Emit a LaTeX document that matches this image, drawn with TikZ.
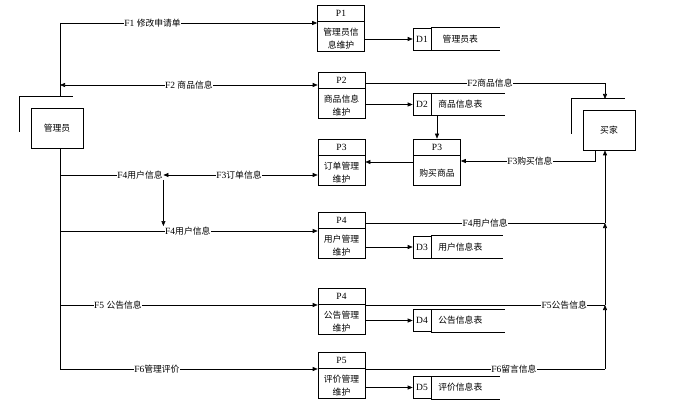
\documentclass[tikz,border=0pt]{standalone}
\usepackage{fontspec}
\setmainfont{Liberation Serif}
\newfontfamily\cjk{Noto Sans CJK SC}
\newcommand{\zh}{\cjk\fontsize{8.8}{12.5}\selectfont}
\usetikzlibrary{arrows.meta,positioning,calc}

\tikzset{
  proc/.style={draw, minimum width=47pt, minimum height=46pt, inner sep=0pt},
  store/.style={draw, minimum width=18pt, minimum height=22pt, inner sep=0pt},
  ent/.style={draw, minimum width=52pt, minimum height=40pt, font=\zh},
  lbl/.style={fill=white, inner sep=0.5pt},
  arr/.style={-{Triangle[length=5pt,width=4pt]}},
  arr2/.style={{Triangle[length=5pt,width=4pt]}-{Triangle[length=5pt,width=4pt]}},
}

\begin{document}
\begin{tikzpicture}[x=1pt,y=-1pt,line width=0.6pt,font=\fontsize{9.5}{12.5}\selectfont]
    \useasboundingbox (0,0) rectangle (683,409);

    % processes
    \foreach \n/\x/\y/\id/\txt in {p1/341/28/P1/{管理员信\\息维护}, p2/341.5/95/P2/{商品信息\\维护},
        p3a/341.5/162/P3/{订单管理\\维护}, p3b/437/162/P3/{购买商品}, p4/341.5/235/P4/{用户管理\\维护},
        p4b/341.5/311/P4/{公告管理\\维护}, p5/341.5/375/P5/{评价管理\\维护}}{
        \node[proc] (\n) at (\x,\y) {};
        \draw ([yshift=-17pt]\n.north west) -- ([yshift=-17pt]\n.north east);
        \node at ([yshift=-8.5pt]\n.north) {\id};
        \node[align=center, font=\zh, inner sep=0pt] at ([yshift=-34pt]\n.north) {\txt};
    }

    % data stores
    \foreach \n/\y/\id/\txt/\len in {d1/39/D1/管理员表/69, d2/104.5/D2/商品信息表/74,
        d3/247/D3/用户信息表/72, d4/320.5/D4/公告信息表/74, d5/387.5/D5/评价信息表/69}{
        \node[store] (\n) at (422,\y) {\id};
        \draw (\n.north east) -- ++(\len,0);
        \draw (\n.south east) -- ++(\len,0);
        \node[font=\zh] at ([xshift=29pt]\n.east) {\txt};
    }

    % external entities
    \node[ent] (adm) at (57,128) {管理员};
    \node[ent] (buy) at (609,130) {买家};
    \foreach \e in {adm,buy}
        \draw ([shift={(-11,24)}]\e.north west) -- ([shift={(-11,-11)}]\e.north west)
            -- ([shift={(42,-11)}]\e.north west);

    % left spine
    \coordinate (s1) at (60,23);
    \coordinate (s2) at (60,85);
    \coordinate (s3) at (60,97);
    \coordinate (s4) at (60,148);
    \coordinate (s5) at (60,175);
    \coordinate (s6) at (60,231);
    \coordinate (s7) at (60,305);
    \coordinate (s8) at (60,369);
    \draw (s1) -- (s3);
    \draw (s4) -- (s8);

    \draw[arr] (s1) -- node[lbl,pos=.36] {F1 {\zh 修改申请单}} (s1 -| p1.west);
    \draw[arr2] (s2) -- node[lbl,pos=.5] {F2 {\zh 商品信息}} (s2 -| p2.west);
    \node[lbl] (f4a) at (140,175) {F4{\zh 用户信息}};
    \draw (s5) -- (f4a.west);
    \draw[arr2] (f4a.east) -- node[lbl,pos=.49] {F3{\zh 订单信息}} (f4a.east -| p3a.west);
    \draw[arr] (s6) -- node[lbl,pos=.496] (f4b) {F4{\zh 用户信息}} (s6 -| p4.west);
    \draw[arr] (f4a.south east) -- (f4a.south east |- f4b.north);
    \draw[arr] (s7) -- node[lbl,pos=.225] {F5 {\zh 公告信息}} (s7 -| p4b.west);
    \draw[arr] (s8) -- node[lbl,pos=.376] {F6{\zh 管理评价}} (s8 -| p5.west);

    % process to store
    \draw[arr] (p1.east |- d1.west) -- (d1.west);
    \draw[arr] (p2.east |- d2.west) -- (d2.west);
    \draw[arr] (p4.east |- d3.west) -- (d3.west);
    \draw[arr] (p4b.east |- d4.west) -- (d4.west);
    \draw[arr] (p5.east |- d5.west) -- (d5.west);
    \draw[arr] (p3b.north |- d2.south) -- (p3b.north);
    \draw[arr] (p3b.west) -- (p3b.west -| p3a.east);

    % right side
    \coordinate (r2) at (605,83);
    \coordinate (r2b) at (605,99);
    \coordinate (r3) at (595,161);
    \coordinate (r6) at (605,223);
    \coordinate (r7) at (605,305);
    \coordinate (r8) at (605,369);
    \draw[arr] (r2 -| p2.east) -- node[lbl,pos=.52] {F2{\zh 商品信息}} (r2) -- (r2b);
    \draw[arr] (r3 |- buy.south) -- (r3) -- node[lbl,pos=.485] {F3{\zh 购买信息}} (r3 -| p3b.east);
    \draw[arr] (r8) -- (r7);
    \draw[arr] (r7) -- (r6);
    \draw[arr] (r6) -- (r6 |- buy.south);
    \draw (r6 -| p4.east) -- node[lbl,pos=.5] {F4{\zh 用户信息}} (r6);
    \draw (r7 -| p4b.east) -- node[lbl,pos=.83] {F5{\zh 公告信息}} (r7);
    \draw (r8 -| p5.east) -- node[lbl,pos=.62] {F6{\zh 留言信息}} (r8);
\end{tikzpicture}
\end{document}
